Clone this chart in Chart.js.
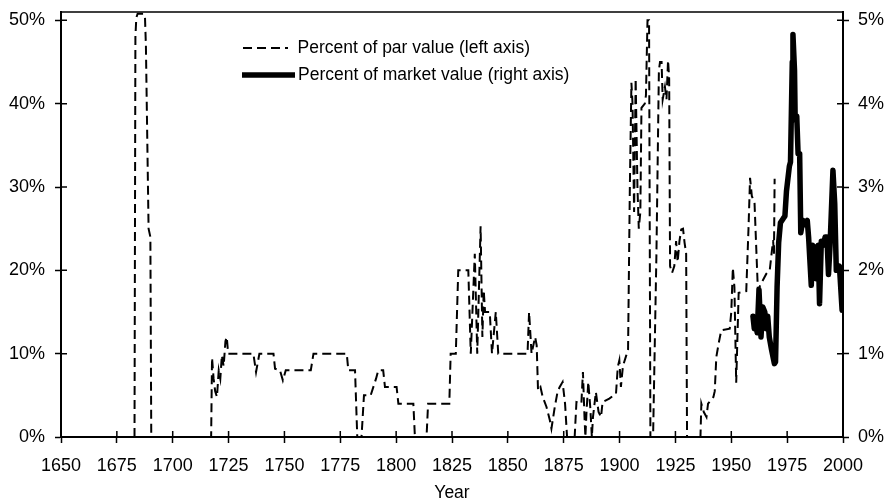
<!DOCTYPE html>
<html>
<head>
<meta charset="utf-8">
<script src="https://cdn.jsdelivr.net/npm/chart.js@4.4.1/dist/chart.umd.min.js"></script>
<style>
html,body{margin:0;padding:0;background:#fff;}
#wrap{width:887px;height:504px;}
</style>
</head>
<body>
<div id="wrap"><canvas id="c" width="887" height="504"></canvas></div>
<script>
// ---- Data ----
const parYears = [
 1682.9,1683.3,1683.7,1684.3,1687.0,1687.6,1688.0,1689.2,1690.0,1690.4,
 1717.2,1717.6,1718.3,1719.0,1719.8,1720.6,1721.3,1722.0,1722.8,1723.6,1724.2,1724.8,
 1736.1,1737.3,1738.8,1745.1,1745.8,1748.0,1749.3,1750.6,1761.8,1763.0,1777.9,1778.6,1781.6,1782.6,
 1784.5,1785.6,1788.6,1791.0,1792.0,1794.2,1795.0,1800.2,1801.0,1807.7,1808.4,
 1813.6,1814.3,1823.8,1824.4,1826.7,1827.8,1832.3,1833.4,1835.2,1836.3,1837.8,1838.6,1839.2,1839.8,
 1841.9,1842.9,1844.6,1845.7,1858.8,1859.5,1860.6,1862.2,1862.9,1863.5,1864.6,1865.6,1867.3,1868.8,
 1869.5,1871.0,1872.3,1873.2,1874.5,1875.6,1876.5,
 1879.9,1880.7,1882.9,1883.6,1884.3,1884.7,1885.2,1886.0,1886.9,1887.6,1888.1,1889.4,1890.6,1891.7,
 1892.4,1895.4,1898.4,1899.2,1899.9,1900.6,1901.5,1903.0,1903.8,1904.6,1905.3,1905.8,1906.5,
 1907.2,1908.0,1908.6,1909.3,1909.8,1911.3,1911.8,1912.5,1913.2,1913.8,
 1915.0,1916.5,1917.6,1918.1,1918.8,1919.3,1920.3,1921.0,1921.7,1922.2,1922.6,1923.5,1924.5,1925.3,
 1926.0,1926.8,1927.6,1928.4,1929.1,1929.8,1930.2,
 1936.2,1936.6,1937.7,1938.9,1939.6,1942.0,1942.6,1943.3,1944.4,1945.5,1949.3,1950.0,1950.7,1951.4,
 1952.2,1953.3,1956.7,1957.7,1958.4,1959.2,1960.4,1961.9,1963.5,1965.7,1967.2,1968.7,1969.1,1969.4
];
const parValues = [
 0,48,50.3,50.8,50.8,50.3,47,25,24,0,
 0,9.5,7,5.5,4.8,8,7,9.8,8.5,11.5,12,10,
 10,7.8,10,10,8.2,8,6.8,8,8,10,10,8,8,0,
 0,5,5,7,8,8,6,6,4,4,0,
 0,4,4,10,10,20,20,10,22,10,25.3,12,17.6,15,
 15,10,15,10,10,15,10,12,11,5.6,6,4.8,3.6,2,
 1,3.6,5.5,6,6.6,4,0,
 0,4.2,4,7.8,2.4,0,3,6.6,3.5,0,2.4,5.4,3,2.4,
 4.2,4.6,5.2,8.4,9.2,6,8.5,9.8,10.5,30,42.5,40,27,
 43,30,25,27,39.5,40,41,50,50,0,
 0,22,44,45,45,40.5,42,40.5,45.2,43,20.5,19.7,20.5,23.5,
 21,23.5,24.9,25,23.3,22,0,
 0,4,3,2.4,4,4.8,5.5,9.6,11.3,12.8,13,15,20.3,18,
 6.5,17.3,17.5,25,31.1,28.9,28.1,17.6,18.5,19.6,20,23.6,22,31
];
const mktYears = [
 1959.7,1960.3,1961.0,1961.6,1962.4,1963.0,1963.3,1964.1,1965.0,1965.7,1966.3,1967.0,1968.0,1969.3,
 1969.8,1970.5,1971.2,1972.0,1973.2,1974.0,1974.7,1976.0,1976.5,1977.3,1977.6,1978.3,1978.6,1979.3,
 1979.9,1980.6,1981.1,1982.0,1983.0,1984.0,1984.6,1985.8,1986.4,1987.3,1988.0,1988.9,1989.5,1990.3,
 1991.2,1992.0,1992.8,1993.5,1994.2,1995.5,1996.3,1997.0,1998.4,1999.6
];
const mktValues = [
 1.45,1.3,1.35,1.25,1.77,1.4,1.2,1.56,1.5,1.3,1.45,1.2,1.05,0.88,
 0.9,1.8,2.33,2.57,2.62,2.65,2.95,3.25,3.3,4.5,4.83,4.4,3.8,3.85,
 3.4,3.4,2.45,2.6,2.55,2.6,2.4,1.82,2.3,2.28,1.9,2.3,1.6,2.35,
 2.3,2.4,2.4,1.95,2.3,3.2,2.8,2.0,2.05,1.52
];
const xTickValues = [1650,1675,1700,1725,1750,1775,1800,1825,1850,1875,1900,1925,1950,1975,2000];
const leftTickValues = [0,10,20,30,40,50];
const rightTickValues = [0,1,2,3,4,5];
const seriesLabels = ['Percent of par value (left axis)','Percent of market value (right axis)'];
const xTitle = 'Year';

// ---- Chart ----
const FONT = '"Liberation Sans", Arial, Helvetica, sans-serif';
Chart.defaults.font.family = FONT;
Chart.defaults.color = '#000';

const frameAndTicks = {
  id: 'frameAndTicks',
  afterDraw(chart) {
    const {ctx, chartArea: a, scales} = chart;
    ctx.save();
    ctx.strokeStyle = '#000';
    ctx.lineWidth = 1.5;
    ctx.beginPath();
    ctx.moveTo(a.left - 1, a.top);
    ctx.lineTo(a.right + 1, a.top);
    scales.x.ticks.forEach(t => {
      const p = scales.x.getPixelForValue(t.value);
      ctx.moveTo(p, a.bottom); ctx.lineTo(p, a.bottom - 6);
    });
    scales.yL.ticks.forEach(t => {
      const p = scales.yL.getPixelForValue(t.value);
      ctx.moveTo(a.left, p); ctx.lineTo(a.left + 6, p);
    });
    scales.yR.ticks.forEach(t => {
      const p = scales.yR.getPixelForValue(t.value);
      ctx.moveTo(a.right, p); ctx.lineTo(a.right - 6, p);
    });
    ctx.stroke();
    ctx.restore();
  }
};

const innerLegend = {
  id: 'innerLegend',
  afterDraw(chart) {
    const ctx = chart.ctx;
    const ds = chart.data.datasets;
    ctx.save();
    ctx.strokeStyle = '#000';
    ctx.lineWidth = 2;
    ctx.setLineDash([9, 5]);
    ctx.beginPath(); ctx.moveTo(243, 48); ctx.lineTo(288, 48); ctx.stroke();
    ctx.setLineDash([]);
    ctx.lineWidth = 5.5;
    ctx.beginPath(); ctx.moveTo(242, 75); ctx.lineTo(295, 75); ctx.stroke();
    ctx.fillStyle = '#000';
    ctx.font = '17.5px ' + FONT;
    ctx.textBaseline = 'middle';
    ctx.textAlign = 'left';
    ctx.fillText(ds[0].label, 297.5, 48);
    ctx.fillText(ds[1].label, 298, 75);
    ctx.restore();
  }
};

const axisBorder = {display: true, color: '#000', width: 2};
const gridOpts = {drawOnChartArea: false, drawTicks: true, tickLength: 6, tickWidth: 1.5, tickColor: '#000'};

function fitY(w) {
  return ax => { ax.width = w; ax.paddingTop = 0; ax.paddingBottom = 0; };
}

new Chart(document.getElementById('c'), {
  type: 'line',
  data: {
    datasets: [
      {
        label: seriesLabels[0],
        data: parYears.map((x, i) => ({x: x, y: parValues[i]})),
        yAxisID: 'yL',
        borderColor: '#000',
        borderWidth: 2,
        borderDash: [9, 5],
        pointRadius: 0,
        fill: false,
        tension: 0,
        order: 1
      },
      {
        label: seriesLabels[1],
        data: mktYears.map((x, i) => ({x: x, y: mktValues[i]})),
        yAxisID: 'yR',
        borderColor: '#000',
        borderWidth: 5.5,
        borderJoinStyle: 'round',
        borderCapStyle: 'round',
        pointRadius: 0,
        fill: false,
        tension: 0,
        order: 0
      }
    ]
  },
  options: {
    responsive: false,
    animation: false,
    devicePixelRatio: 1,
    layout: {padding: {top: 12, left: 0, right: 0, bottom: 0}},
    plugins: {legend: {display: false}, tooltip: {enabled: false}},
    scales: {
      x: {
        type: 'linear', min: 1650, max: 2000,
        afterBuildTicks: ax => { ax.ticks = xTickValues.map(v => ({value: v})); },
        afterFit: ax => { ax.height = 67; ax.paddingLeft = 0; ax.paddingRight = 0; },
        border: axisBorder,
        grid: gridOpts,
        ticks: {font: {size: 18}, padding: 12, maxRotation: 0, autoSkip: false, callback: v => String(v)},
        title: {display: true, text: xTitle, font: {size: 17.5}, padding: {top: 0, bottom: 0}}
      },
      yL: {
        type: 'linear', position: 'left', min: 0, max: 51,
        afterBuildTicks: ax => { ax.ticks = leftTickValues.map(v => ({value: v})); },
        afterFit: fitY(61),
        border: axisBorder,
        grid: gridOpts,
        ticks: {font: {size: 18}, padding: 10, callback: v => v + '%'}
      },
      yR: {
        type: 'linear', position: 'right', min: 0, max: 5.1,
        afterBuildTicks: ax => { ax.ticks = rightTickValues.map(v => ({value: v})); },
        afterFit: fitY(44),
        border: axisBorder,
        grid: gridOpts,
        ticks: {font: {size: 18}, padding: 9, callback: v => v + '%'}
      }
    }
  },
  plugins: [frameAndTicks, innerLegend]
});
</script>
</body>
</html>
